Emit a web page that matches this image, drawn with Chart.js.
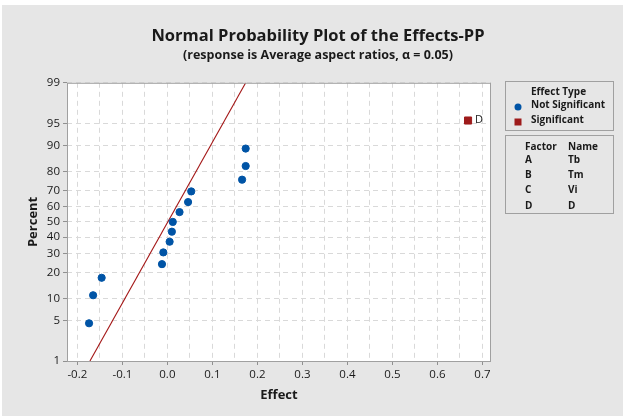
<!DOCTYPE html>
<html>
<head>
<meta charset="utf-8">
<script src="https://cdn.jsdelivr.net/npm/chart.js@4.4.0/dist/chart.umd.min.js"></script>
<style>
  html, body { margin: 0; padding: 0; background: #fff; }
  #c { display: block; }
</style>
</head>
<body>
<canvas id="c" width="623" height="416"></canvas>
<script>
// Data
const effectsNS = [-0.174, -0.165, -0.146, -0.012, -0.009, 0.005, 0.010, 0.012, 0.027, 0.046, 0.053, 0.166, 0.174, 0.174]
const percentsNS = [4.5, 11.0, 17.5, 24.0, 30.5, 37.0, 43.5, 50.0, 56.5, 63.0, 69.5, 76.0, 82.5, 89.0]
const effectsSig = [0.668]
const percentsSig = [95.5]
const sigLabels = ['D']
const lineEffects = [-0.172, 0.174]
const linePercents = [1, 99]
const yTickPercents = [1, 5, 10, 20, 30, 40, 50, 60, 70, 80, 90, 95, 99]
const xGridValues = [-0.2, -0.15, -0.1, -0.05, 0, 0.05, 0.1, 0.15, 0.2, 0.25, 0.3, 0.35, 0.4, 0.45, 0.5, 0.55, 0.6, 0.65, 0.7]
const factors = ['A', 'B', 'C', 'D']
const factorNames = ['Tb', 'Tm', 'Vi', 'D']

const FONT = '"Open Sans", "Noto Sans", sans-serif'
const BLUE = '#0054a6'
const RED = '#9e1b1b'
const GRID = '#d9d9d9'

// inverse normal cdf (Acklam) - turns percent into the probability-scale position
function probit(p) {
  const a = [-3.969683028665376e+01, 2.209460984245205e+02, -2.759285104469687e+02, 1.383577518672690e+02, -3.066479806614716e+01, 2.506628277459239e+00]
  const b = [-5.447609879822406e+01, 1.615858368580409e+02, -1.556989798598866e+02, 6.680131188771972e+01, -1.328068155288572e+01]
  const c = [-7.784894002430293e-03, -3.223964580411365e-01, -2.400758277161838e+00, -2.549732539343734e+00, 4.374664141464968e+00, 2.938163982698783e+00]
  const d = [7.784695709041462e-03, 3.224671290700398e-01, 2.445134137142996e+00, 3.754408661907416e+00]
  const pl = 0.02425
  let q, r
  if (p < pl) {
    q = Math.sqrt(-2 * Math.log(p))
    return (((((c[0]*q+c[1])*q+c[2])*q+c[3])*q+c[4])*q+c[5]) / ((((d[0]*q+d[1])*q+d[2])*q+d[3])*q+1)
  } else if (p <= 1 - pl) {
    q = p - 0.5; r = q * q
    return (((((a[0]*r+a[1])*r+a[2])*r+a[3])*r+a[4])*r+a[5])*q / (((((b[0]*r+b[1])*r+b[2])*r+b[3])*r+b[4])*r+1)
  } else {
    q = Math.sqrt(-2 * Math.log(1 - p))
    return -(((((c[0]*q+c[1])*q+c[2])*q+c[3])*q+c[4])*q+c[5]) / ((((d[0]*q+d[1])*q+d[2])*q+d[3])*q+1)
  }
}

const toPts = (xs, ps) => xs.map((x, i) => ({ x: x, y: probit(ps[i] / 100) }))
const isMajor = v => Math.abs(v * 10 - Math.round(v * 10)) < 1e-6

const framePlugin = {
  id: 'frame',
  beforeDraw(chart) {
    const { ctx, chartArea: a } = chart
    ctx.save()
    ctx.fillStyle = '#fff'
    ctx.fillRect(0, 0, chart.width, chart.height)
    ctx.fillStyle = '#e6e6e6'
    ctx.fillRect(2, 5, chart.width - 2, chart.height - 5)
    ctx.fillStyle = '#fff'
    ctx.fillRect(a.left, a.top, a.right - a.left, a.bottom - a.top)
    ctx.restore()
  },
  afterDraw(chart) {
    const { ctx, chartArea: a } = chart
    ctx.save()
    ctx.strokeStyle = '#a0a0a0'
    ctx.lineWidth = 1
    ctx.strokeRect(a.left + 0.5, a.top + 0.5, a.right - a.left - 1, a.bottom - a.top)

    // label next to significant effect
    const meta = chart.getDatasetMeta(1)
    ctx.fillStyle = '#222'
    ctx.font = '11px ' + FONT
    ctx.textBaseline = 'middle'
    ctx.textAlign = 'left'
    meta.data.forEach((el, i) => ctx.fillText(sigLabels[i], el.x + 7, el.y - 1))

    // legend boxes
    ctx.strokeStyle = '#a0a0a0'
    ctx.strokeRect(505.5, 81.5, 108, 49)
    ctx.strokeRect(505.5, 135.5, 108, 78)
    ctx.fillStyle = '#1a1a1a'
    ctx.font = 'bold 10px ' + FONT
    ctx.fillText('Effect Type', 531, 92)
    ctx.fillText('Not Significant', 531, 105)
    ctx.fillText('Significant', 531, 120)
    ctx.fillStyle = BLUE
    ctx.beginPath(); ctx.arc(518, 107, 3.5, 0, Math.PI * 2); ctx.fill()
    ctx.fillStyle = RED
    ctx.fillRect(514.5, 118.5, 7, 7)
    ctx.fillStyle = '#1a1a1a'
    ctx.fillText('Factor', 525, 147)
    ctx.fillText('Name', 568, 147)
    const rowY = [160, 175.5, 190.5, 206]
    factors.forEach((f, i) => {
      ctx.fillText(f, 525, rowY[i])
      ctx.fillText(factorNames[i], 568, rowY[i])
    })
    ctx.restore()
  }
}

new Chart(document.getElementById('c'), {
  type: 'scatter',
  data: {
    datasets: [
      { label: 'Not Significant', data: toPts(effectsNS, percentsNS), backgroundColor: BLUE, borderColor: BLUE, pointRadius: 3.6, pointHoverRadius: 3.6 },
      { label: 'Significant', data: toPts(effectsSig, percentsSig), backgroundColor: RED, borderColor: RED, pointStyle: 'rect', pointRadius: 5, pointHoverRadius: 5 },
      { label: 'Line', data: toPts(lineEffects, linePercents), showLine: true, borderColor: '#a31515', borderWidth: 1.1, pointRadius: 0, fill: false }
    ]
  },
  options: {
    responsive: false,
    animation: false,
    devicePixelRatio: 1,
    layout: { padding: { left: 13, right: 0, top: 0, bottom: 0 } },
    plugins: {
      legend: { display: false },
      tooltip: { enabled: false },
      title: {
        display: true,
        text: 'Normal Probability Plot of the Effects-PP',
        color: '#1a1a1a',
        font: { family: FONT, size: 16.5, weight: 'bold' },
        padding: { top: 26, bottom: 2 }
      },
      subtitle: {
        display: true,
        text: '(response is Average aspect ratios, \u03b1 = 0.05)',
        color: '#1a1a1a',
        font: { family: FONT, size: 12.5, weight: 'bold' },
        padding: { top: 0, bottom: 20 }
      }
    },
    scales: {
      x: {
        type: 'linear',
        min: -0.223,
        max: 0.719,
        afterBuildTicks: s => { s.ticks = xGridValues.map(v => ({ value: v })) },
        afterFit: s => { s.height = 55 },
        border: { display: false, dash: [5, 4] },
        grid: {
          color: GRID,
          tickColor: c => (c.tick && isMajor(c.tick.value)) ? '#909090' : 'rgba(0,0,0,0)',
          tickLength: 4,
          lineWidth: 1
        },
        ticks: {
          autoSkip: false,
          maxRotation: 0,
          padding: 3,
          color: '#1a1a1a',
          font: { family: FONT, size: 11.5 },
          callback: v => isMajor(v) ? (Math.round(v * 10) / 10).toFixed(1) : ''
        },
        title: {
          display: true,
          text: 'Effect',
          color: '#1a1a1a',
          font: { family: FONT, size: 13, weight: 'bold' },
          padding: { top: 0, bottom: 13 }
        }
      },
      y: {
        type: 'linear',
        min: probit(yTickPercents[0] / 100),
        max: probit(yTickPercents[yTickPercents.length - 1] / 100),
        afterBuildTicks: s => { s.ticks = yTickPercents.map(p => ({ value: probit(p / 100) })) },
        afterFit: s => { s.width = 54 },
        border: { display: false, dash: [5, 4] },
        grid: {
          color: GRID,
          tickColor: '#909090',
          tickLength: 4,
          lineWidth: 1
        },
        ticks: {
          autoSkip: false,
          padding: 3,
          color: '#1a1a1a',
          font: { family: FONT, size: 11.5 },
          callback: (v, i) => String(yTickPercents[i])
        },
        title: {
          display: true,
          text: 'Percent',
          color: '#1a1a1a',
          font: { family: FONT, size: 13, weight: 'bold' },
          padding: { top: 12, bottom: 0 }
        }
      },
      // empty right-hand axis that reserves room for the legend boxes
      side: {
        type: 'linear',
        position: 'right',
        min: 0,
        max: 1,
        afterFit: s => { s.width = 132 },
        border: { display: false },
        grid: { drawOnChartArea: false, drawTicks: false },
        ticks: { display: false }
      }
    }
  },
  plugins: [framePlugin]
})
</script>
</body>
</html>
